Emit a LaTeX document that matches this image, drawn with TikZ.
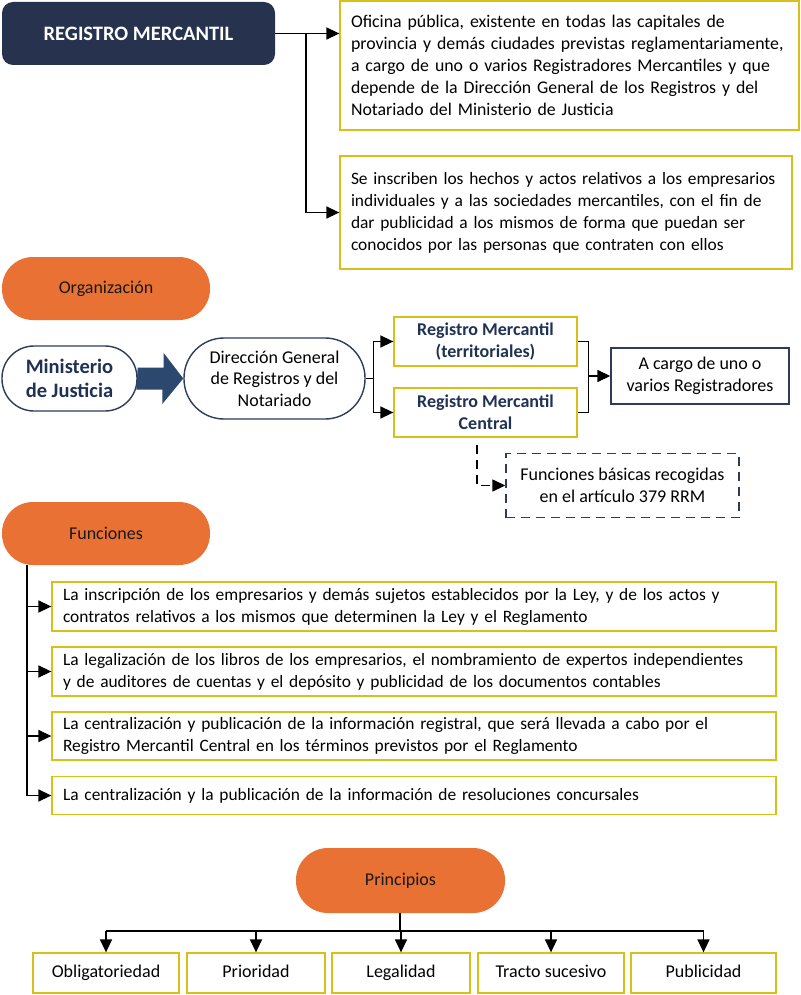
\documentclass[tikz,border=0pt]{standalone}
\usepackage{fontspec}
\setmainfont{Carlito}
\usetikzlibrary{arrows.meta,calc}
\definecolor{navyfill}{RGB}{38,50,78}
\definecolor{navytxt}{RGB}{31,50,84}
\definecolor{navyline}{RGB}{44,60,90}
\definecolor{blockarr}{RGB}{44,72,110}
\definecolor{orng}{RGB}{233,113,52}
\definecolor{ylw}{RGB}{216,192,24}
\newcommand{\bodyfont}{\fontsize{17.8}{22}\selectfont}
\newcommand{\bodyfontb}{\fontsize{17.4}{22}\selectfont}
\newcommand{\funcfont}{\fontsize{17.4}{22}\selectfont}
\newcommand{\midfont}{\fontsize{18}{22}\selectfont}
\tikzset{
  x=1pt, y=-1pt,
  conn/.style={line width=1.5pt, draw=black},
  arr/.style={conn, -{Triangle[length=13pt,width=12pt]}},
  ybox/.style={draw=ylw, line width=1.3pt, fill=white, inner xsep=11pt, inner ysep=0pt, align=left, font=\bodyfont, text=black},
  cbox/.style={draw=ylw, line width=1.3pt, fill=white, inner sep=0pt, align=center, font=\midfont, text=black},
  pbox/.style={cbox, text height=12.5pt, text depth=4pt, minimum height=40pt},
  pill/.style={fill=orng, draw=none, inner sep=0pt, align=center, font=\midfont, text=black!90},
  wpill/.style={fill=white, draw=navyline, line width=1.4pt, inner sep=0pt, align=center},
}
\begin{document}
\begin{tikzpicture}
\useasboundingbox (0,0) rectangle (800,995);
\fill[white] (0,0) rectangle (800,995);

% Header
\node[fill=navyfill, rounded corners=11pt, minimum width=273pt, minimum height=63pt, inner sep=0pt,
  text=white, font=\fontsize{20.5}{24}\selectfont\bfseries] (rm) at (138.5,33.5) {REGISTRO MERCANTIL};

\node[ybox, text width=437pt, minimum height=129pt] (b1) at (569.5,65.5)
 {Oficina pública, existente en todas las capitales de\\
  provincia y demás ciudades previstas reglamentariamente,\\
  a cargo de uno o varios Registradores Mercantiles y que\\
  depende de la Dirección General de los Registros y del\\
  Notariado del Ministerio de Justicia};
\node[ybox, font=\bodyfontb, text width=430pt, minimum height=113pt] (b2) at (566,212.5)
 {Se inscriben los hechos y actos relativos a los empresarios\\
  individuales y a las sociedades mercantiles, con el fin de\\
  dar publicidad a los mismos de forma que puedan ser\\
  conocidos por las personas que contraten con ellos};

\draw[arr] (rm.east) -- (b1.west |- rm.east);
\coordinate (rj) at ($(rm.east)+(31,0)$);
\draw[arr] (rj) |- (b2.west);

% Organizacion
\node[pill, rounded corners=31pt, minimum width=208pt, minimum height=63pt] (org) at (106,288.5) {Organización};

\node[wpill, rounded corners=32pt, minimum width=135pt, minimum height=65pt, text=navytxt,
  font=\fontsize{20.5}{24}\selectfont\bfseries] (mj) at (69.5,378.5) {Ministerio\\de Justicia};
\node[wpill, rounded corners=40pt, minimum width=181pt, minimum height=81pt, font=\fontsize{18}{21.5}\selectfont]
  (dg) at (274.5,378.5) {Dirección General\\de Registros y del\\Notariado};

\fill[blockarr] ($(mj.east)+(0,-11)$) -- ++(26,0) -- ++(0,-14.5) -- (dg.west) -- ++(-21,25.5)
  -- ++(0,-14.5) -- ++(-26,0) -- cycle;

\node[cbox, minimum width=183pt, minimum height=49pt, text=navytxt, font=\midfont\bfseries]
  (rt) at (485.5,341.5) {Registro Mercantil\\(territoriales)};
\node[cbox, minimum width=183pt, minimum height=49pt, text=navytxt, font=\midfont\bfseries]
  (rc) at (485.5,412.5) {Registro Mercantil\\Central};

\draw[conn] (dg.east) -- ++(8,0) coordinate (dj);
\draw[arr] (dj) |- (rt.west);
\draw[arr] (dj) |- (rc.west);

\node[draw=navyline, line width=1.4pt, fill=white, minimum width=178pt, minimum height=56pt, inner sep=0pt,
  align=center, font=\midfont] (ac) at (700,376) {A cargo de uno o\\varios Registradores};
\coordinate (bk) at ($(rt.east)+(11,0)$);
\draw[conn] (rt.east) -- (bk) |- (rc.east);
\draw[arr] (bk |- ac.west) -- (ac.west);

\node[draw=navyline, line width=1.4pt, dash pattern=on 9pt off 6pt, fill=white, minimum width=233pt,
  minimum height=64pt, inner sep=0pt, align=center, font=\midfont]
  (fb) at (622.5,485.5) {Funciones básicas recogidas\\en el artículo 379 RRM};
\draw[arr, dash pattern=on 9pt off 6pt] ($(rc.south)+(-8.5,7)$) |- (fb.west);

% Funciones
\node[pill, rounded corners=31pt, minimum width=208pt, minimum height=63pt] (fn) at (106,533.5) {Funciones};

\node[ybox, font=\funcfont, text width=702pt, minimum height=49pt] (f1) at (414,606.5)
 {La inscripción de los empresarios y demás sujetos establecidos por la Ley, y de los actos y\\
  contratos relativos a los mismos que determinen la Ley y el Reglamento};
\node[ybox, font=\funcfont, text width=702pt, minimum height=49pt] (f2) at (414,671.5)
 {La legalización de los libros de los empresarios, el nombramiento de expertos independientes\\
  y de auditores de cuentas y el depósito y publicidad de los documentos contables};
\node[ybox, font=\funcfont, text width=702pt, minimum height=48pt] (f3) at (414,736)
 {La centralización y publicación de la información registral, que será llevada a cabo por el\\
  Registro Mercantil Central en los términos previstos por el Reglamento};
\node[ybox, font=\funcfont, text width=702pt, minimum height=38pt] (f4) at (414,795.5)
 {La centralización y la publicación de la información de resoluciones concursales};

\coordinate (fv) at (27,565);
\draw[arr] (fv) |- (f4.west);
\draw[arr] (fv |- f1.west) -- (f1.west);
\draw[arr] (fv |- f2.west) -- (f2.west);
\draw[arr] (fv |- f3.west) -- (f3.west);

% Principios
\node[pill, rounded corners=32pt, minimum width=209pt, minimum height=65pt] (pr) at (400.5,880.5) {Principios};

\node[pbox, minimum width=146pt] (p1) at (106,973) {Obligatoriedad};
\node[pbox, minimum width=138pt] (p2) at (256,973) {Prioridad};
\node[pbox, minimum width=138pt] (p3) at (401,973) {Legalidad};
\node[pbox, minimum width=146pt] (p4) at (551,973) {Tracto sucesivo};
\node[pbox, minimum width=145pt] (p5) at (703.5,973) {Publicidad};

\coordinate (pj) at (400,931);
\draw[conn] (pr.south -| pj) -- (pj);
\draw[conn] (pj -| p1.north) -- (pj -| p5.north);
\foreach \p in {p1,p2,p3,p4,p5} {
  \draw[arr] (pj -| \p.north) -- (\p.north);
}
\end{tikzpicture}
\end{document}
